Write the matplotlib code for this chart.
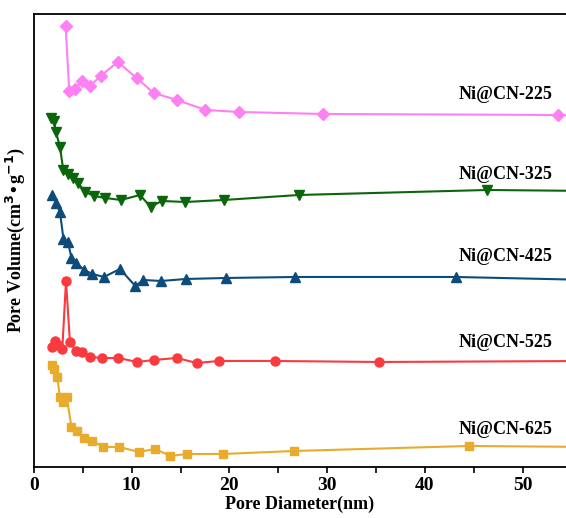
import numpy as np
import matplotlib
matplotlib.use('Agg')
import matplotlib.pyplot as plt
from matplotlib.ticker import MultipleLocator

plt.rcParams['font.family'] = ['Liberation Serif', 'DejaVu Serif']
plt.rcParams['font.weight'] = 'bold'

# pore diameter (nm) and stacked pore volume (a.u., offset per sample)
x_225 = [3.24, 3.61, 4.23, 4.91, 5.73, 6.83, 8.57, 10.51, 12.25, 14.64, 17.55, 21.01, 29.58, 53.6, 57.0]
y_225 = [441, 376, 378, 386, 381, 391, 405, 389, 374, 367, 357, 355, 353, 352, 351]

x_325 = [1.71, 2.05, 2.25, 2.66, 3.0, 3.51, 3.96, 4.53, 5.22, 6.17, 7.30, 8.90, 10.85, 11.94, 13.07,
         15.5, 19.45, 27.12, 46.4, 57.0]
y_325 = [349, 346, 335, 320, 297, 293, 289, 284, 275, 271, 269, 267, 272, 260, 266,
         265, 267, 272, 277, 276]

x_425 = [1.84, 2.25, 2.66, 3.02, 3.48, 3.84, 4.35, 5.12, 5.99, 7.16, 8.80, 10.37, 11.19, 13.0,
         15.56, 19.62, 26.71, 43.19, 57.0]
y_425 = [272, 264, 255, 228, 225, 209, 204, 197, 193, 190, 198, 181, 187, 186,
         188, 189, 190, 190, 187]

x_525 = [1.81, 2.15, 2.49, 2.90, 3.28, 3.68, 4.30, 4.88, 5.78, 6.96, 8.63, 10.57, 12.28, 14.61,
         16.68, 18.94, 24.67, 35.34, 57.0]
y_525 = [120, 126, 122, 118, 186, 125, 116, 115, 110, 109, 109, 105, 107, 109,
         104, 106, 106, 105, 106]

x_625 = [1.81, 2.08, 2.38, 2.66, 3.0, 3.35, 3.84, 4.43, 5.12, 5.97, 7.09, 8.73, 10.75, 12.38,
         13.97, 15.63, 19.38, 26.61, 44.52, 57.0]
y_625 = [102, 98, 90, 70, 65, 70, 40, 36, 29, 26, 20, 20, 15, 18,
         11, 13, 13, 16, 21, 20]

series = [
    (x_225, y_225, 'D', 6.5, '#FF80F2', 'Ni@CN-225', 372),
    (x_325, y_325, 'v', 7.5, '#0B660B', 'Ni@CN-325', 292),
    (x_425, y_425, '^', 7.5, '#0D4C7A', 'Ni@CN-425', 210),
    (x_525, y_525, 'o', 6.5, '#F93A3E', 'Ni@CN-525', 124),
    (x_625, y_625, 's', 6, '#E8AB2B', 'Ni@CN-625', 37),
]

fig = plt.figure(figsize=(5.66, 5.18), dpi=100)
ax = fig.add_axes([0.060, 0.0985, 0.94, 0.8745])

for xs, ys, mk, ms, col, name, ty in series:
    ax.plot(xs, ys, marker=mk, markersize=ms, color=col, linewidth=1.5)
    ax.text(48.3, ty, name, ha='center', va='center', fontsize=13, fontweight='bold')

ax.set_xlim(0, 54.45)
ax.set_ylim(0, 453)
ax.xaxis.set_major_locator(MultipleLocator(10))
ax.xaxis.set_minor_locator(MultipleLocator(5))
ax.tick_params(axis='x', which='both', direction='out', length=4, width=1.2, labelsize=14)
ax.tick_params(axis='y', left=False, labelleft=False)
ax.spines['right'].set_visible(False)
for s in ['left', 'top', 'bottom']:
    ax.spines[s].set_linewidth(1.3)

ax.set_xlabel('Pore Diameter(nm)', fontsize=13, fontweight='bold', labelpad=1)
ax.set_ylabel('Pore Volume(cm$^\\mathbf{3}$•g$^\\mathbf{-1}$)', fontsize=13, fontweight='bold', labelpad=5)

fig.savefig('out.png', dpi=100)
